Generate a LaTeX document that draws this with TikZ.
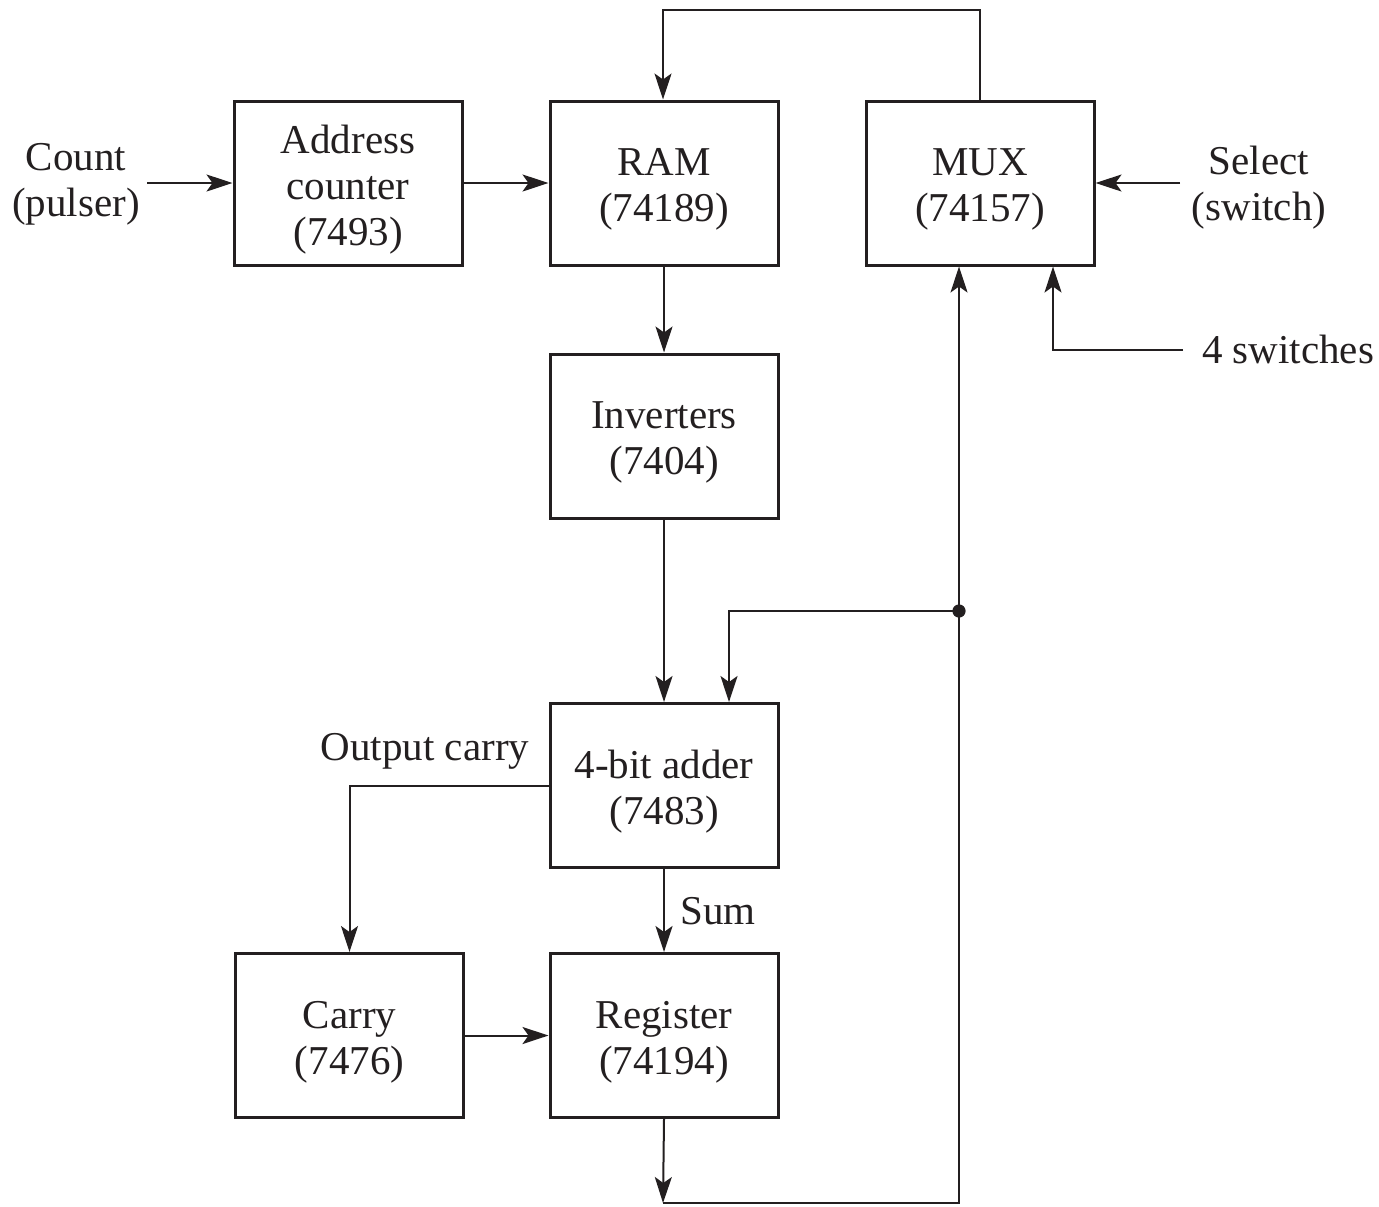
\documentclass[tikz,border=0pt]{standalone}
\usepackage{fontspec}
\setmainfont{Liberation Serif}
\usetikzlibrary{arrows.meta}
\definecolor{ink}{HTML}{231F20}
\begin{document}
\begin{tikzpicture}[x=0.5pt,y=-0.5pt,
  font=\fontsize{20.5}{23}\selectfont,
  lbl/.style={align=center,inner sep=0pt,text=ink},
  blk/.style={draw=ink,line width=1.5pt,minimum width=114pt,minimum height=82pt,
    inner sep=0pt,label={[lbl,yshift=-3.3pt]center:#1}},
  conn/.style={draw=ink,line width=1pt,-{Stealth[length=13pt,width=8.5pt,inset=3pt]}},
  wire/.style={draw=ink,line width=1pt}]
\useasboundingbox (0,0) rectangle (1379,1206);

% blocks
\node[blk={Address\\counter\\(7493)}] (addr)  at (348,183)      {};
\node[blk={RAM\\(74189)}]             (ram)   at (664,183)      {};
\node[blk={MUX\\(74157)}]             (mux)   at (980,183)      {};
\node[blk={Inverters\\(7404)}]        (inv)   at (664,436)      {};
\node[blk={4-bit adder\\(7483)}]      (adder) at (664,785.5)    {};
\node[blk={Carry\\(7476)}]            (carry) at (349.5,1035.5) {};
\node[blk={Register\\(74194)}]        (reg)   at (664,1035.5)   {};

% free labels
\node[lbl] (count) at (76,184)   {Count\\(pulser)};
\node[lbl] (sel)   at (1259,188) {Select\\(switch)};
\node[lbl] (four)  at (1288,349) {4 switches};
\node[lbl] (ocar)  at (425,751)  {Output carry};
\node[lbl] (sum)   at (718,911)  {Sum};

% helper points
\coordinate (cin)  at (147,183);
\coordinate (sin)  at (1180,183);
\coordinate (swin) at (1183,350);
\coordinate (swx)  at (1053,350);
\coordinate (topR) at (980,10);
\coordinate (topL) at (663,10);
\coordinate (bl)   at (663,1203);
\coordinate (br)   at (959,1203);
\coordinate (dot)  at (959,611);
\coordinate (ain)  at (729,611);

% connectors
\draw[conn] (cin) -- (addr.west);
\draw[conn] (addr.east) -- (ram.west);
\draw[conn] (sin) -- (mux.east);
\draw[conn] (swin) -- (swx) -- (swx |- mux.south);
\draw[conn] (mux.north) -- (topR) -- (topL) -- (topL |- ram.north);
\draw[conn] (ram.south) -- (inv.north);
\draw[conn] (inv.south) -- (adder.north);
\draw[conn] (adder.west) -| (carry.north);
\draw[conn] (adder.south) -- (reg.north);
\draw[conn] (carry.east) -- (reg.west);
\draw[conn] (reg.south) -- (bl);
\draw[conn] (bl) -- (br) -- (br |- mux.south);
\draw[conn] (dot) -- (ain) -- (ain |- adder.north);
\fill[ink] (dot) circle (3.3pt);
\end{tikzpicture}
\end{document}
